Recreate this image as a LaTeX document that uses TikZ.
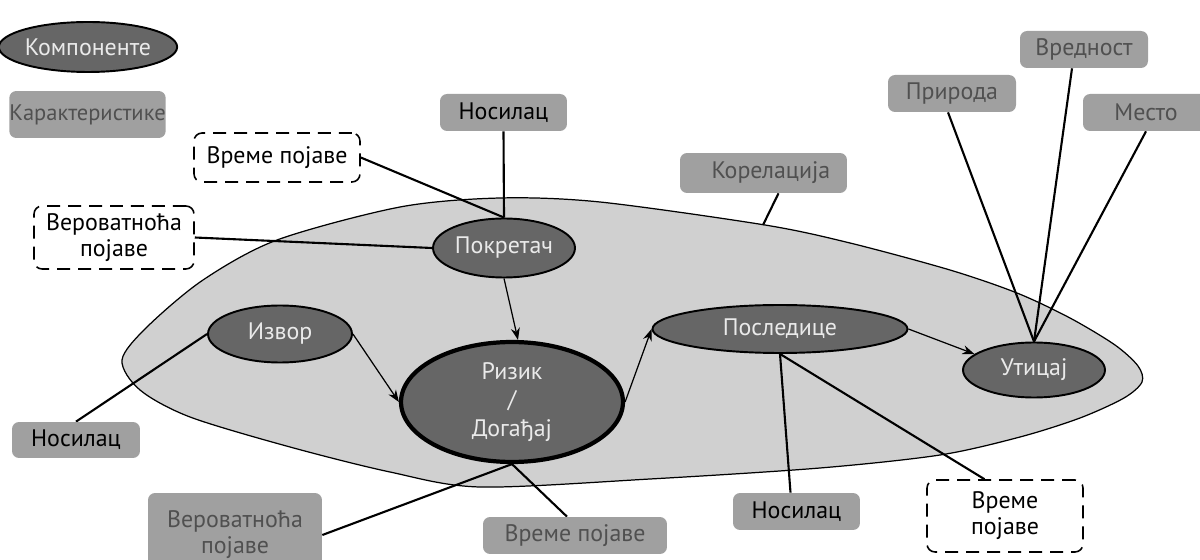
\documentclass[tikz,border=0pt]{standalone}
\usepackage{fontspec}
\setmainfont{PT Sans}
\usetikzlibrary{arrows.meta,shapes.geometric,calc,backgrounds}
\definecolor{regfill}{HTML}{D0D0D0}
\definecolor{compfill}{HTML}{666666}
\definecolor{charfill}{HTML}{A0A0A0}
\definecolor{chartext}{HTML}{505050}
\definecolor{comptext}{HTML}{EAEAEA}
\begin{document}
\begin{tikzpicture}[x=0.02cm,y=-0.02cm,
  font=\fontsize{13.6pt}{15pt}\selectfont,
  comp/.style={ellipse, draw=black, line width=1.1pt, fill=compfill, text=comptext, inner sep=0pt},
  charbox/.style={rectangle, rounded corners=0.14cm, fill=charfill, text=chartext, inner sep=0pt, align=center},
  carrier/.style={charbox, text=black},
  dashbox/.style={rectangle, rounded corners=0.16cm, draw=black, line width=0.9pt,
    dash pattern=on 0.26cm off 0.16cm, fill=white, inner sep=0pt, align=center},
  twoline/.style={font=\fontsize{13.6pt}{14.8pt}\selectfont},
  link/.style={line width=1.2pt},
  flow/.style={line width=0.7pt, -{Stealth[length=0.24cm,width=0.18cm]}},
]
\clip (0,0) rectangle (1200,560);
\useasboundingbox (0,0) rectangle (1200,560);

% legend
\node[comp, minimum width=3.08cm, minimum height=1.0cm] (legcomp) at (88,47) {Компоненте};
\node[charbox, minimum width=3.02cm, minimum height=0.94cm, font=\fontsize{12.8pt}{15pt}\selectfont] (legchar) at (87.5,114.5) {Карактеристике};

% components
\node[comp, minimum width=2.84cm, minimum height=1.18cm] (pok) at (504,248) {Покретач};
\node[comp, minimum width=2.88cm, minimum height=1.14cm] (izv) at (280,334) {Извор};
\node[comp, line width=2.4pt, minimum width=4.44cm, minimum height=2.4cm, align=center,
      font=\fontsize{13.6pt}{16pt}\selectfont] (riz) at (512,402) {Ризик\\/\\Догађај};
\node[comp, minimum width=5.1cm, minimum height=0.96cm] (pos) at (780,329) {Последице};
\node[comp, minimum width=2.84cm, minimum height=1.1cm] (uti) at (1034,370) {Утицај};

% characteristics
\node[carrier, minimum width=2.54cm, minimum height=0.74cm] (nos1) at (503.5,112.5) {Носилац};
\node[carrier, minimum width=2.56cm, minimum height=0.72cm] (nos2) at (76,440) {Носилац};
\node[carrier, minimum width=2.54cm, minimum height=0.74cm] (nos3) at (796.5,511.5) {Носилац};
\node[charbox, minimum width=3.34cm, minimum height=0.8cm] (kor) at (763.5,173) {\hspace*{0.3cm}Корелација};
\node[charbox, minimum width=2.56cm, minimum height=0.74cm] (pri) at (952,93.5) {Природа};
\node[charbox, minimum width=2.56cm, minimum height=0.74cm] (vre) at (1084,49.5) {Вредност};
\node[charbox, minimum width=2.52cm, minimum height=0.74cm] (mes) at (1146,112.5) {Место};
\node[charbox, twoline, minimum width=3.48cm, minimum height=1.68cm] (verb) at (235,535) {Вероватноћа\\појаве};
\node[charbox, minimum width=3.68cm, minimum height=0.74cm] (vrb) at (575,535.5) {Време појаве};

% uncertain characteristics
\node[dashbox, minimum width=3.32cm, minimum height=0.98cm] (vt1) at (277,157.5) {Време појаве};
\node[dashbox, twoline, minimum width=3.2cm, minimum height=1.26cm] (vv1) at (114,237.5) {Вероватноћа\\појаве};
\node[dashbox, twoline, minimum width=3.12cm, minimum height=1.44cm] (vt2) at (1005,516) {Време\\појаве};

\coordinate (rim) at (763,225);

\begin{scope}[on background layer]
  % region of correlated elements
  \draw[fill=regfill, line width=0.7pt] plot[smooth cycle, tension=0.5] coordinates {
    (122,360) (147,327) (203,280) (277,240) (400,207) (500,198) (600,202)
    (765,225) (850,243) (950,270) (1017,293) (1070,318) (1115,345) (1138,366)
    (1142,382) (1124,398) (1080,418) (1020,437) (940,455) (820,468) (650,479)
    (480,487) (390,472) (290,447) (190,417) (140,390)};

  % links between components and characteristics
  \draw[link] (vt1.east) -- (pok.north);
  \draw[link] (vv1.east) -- (pok.west);
  \draw[link] (nos1.south) -- (pok.north);
  \draw[link] (nos2.north) -- (izv.west);
  \draw[link] (verb.east) -- (riz.south);
  \draw[link] ([xshift=-0.16cm]vrb.north) -- (riz.south);
  \draw[link] (pos.south) -- ([xshift=-0.12cm]nos3.north);
  \draw[link] (pos.south) -- ($(vt2.north west)!0.37!(vt2.north east)$);
  \draw[link] ([xshift=-0.08cm]pri.south) -- (uti.north);
  \draw[link] ([xshift=-0.24cm]vre.south) -- (uti.north);
  \draw[link] (mes.south) -- (uti.north);
  \draw[link] ([xshift=0.3cm]kor.south) -- (rim);

  % causal flow
  \draw[flow] (pok.south) -- ([xshift=0.12cm]riz.north);
  \draw[flow] (izv.east) -- (riz.west);
  \draw[flow] (riz.east) -- (pos.west);
  \draw[flow] (pos.east) -- (uti.165);
\end{scope}
\end{tikzpicture}
\end{document}
